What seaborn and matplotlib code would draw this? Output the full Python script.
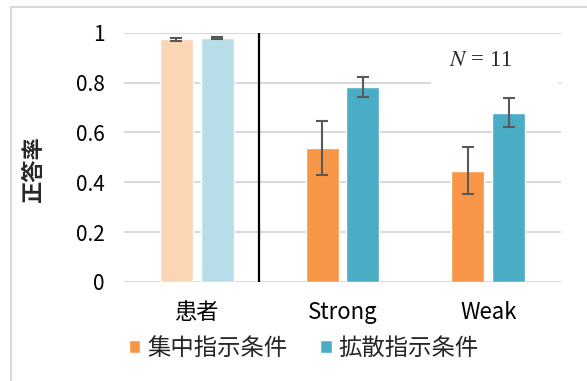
import matplotlib
matplotlib.use("Agg")
import numpy as np
import pandas as pd
import matplotlib.pyplot as plt
from matplotlib.patches import Rectangle
import seaborn as sns

groups = ["患者", "Strong", "Weak"]
conditions = ["集中指示条件", "拡散指示条件"]
focus_mean = [0.974, 0.538, 0.447]
focus_err = [0.006, 0.108, 0.094]
diffuse_mean = [0.979, 0.783, 0.679]
diffuse_err = [0.005, 0.040, 0.058]
ytick_labels = ["0", "0.2", "0.4", "0.6", "0.8", "1"]

df = pd.DataFrame({
    "群": groups * 2,
    "条件": [conditions[0]] * 3 + [conditions[1]] * 3,
    "正答率": focus_mean + diffuse_mean,
    "err": focus_err + diffuse_err,
})

sns.set_theme(style="white")
plt.rcParams["font.family"] = ["Noto Sans CJK JP", "DejaVu Sans"]
plt.rcParams["mathtext.fontset"] = "stix"

dark = {conditions[0]: "#F79646", conditions[1]: "#4BACC6"}
light = {conditions[0]: "#FCD5B5", conditions[1]: "#B7DEE8"}

fig, ax = plt.subplots(figsize=(5.87, 3.81), dpi=100)
fig.subplots_adjust(left=0.211, right=0.956, bottom=0.26, top=0.914)

sns.barplot(data=df, x="群", y="正答率", hue="条件", order=groups,
            hue_order=conditions, palette=dark, saturation=1, width=0.56,
            gap=0.19, errorbar=None, ax=ax, zorder=2)

# error bars + paler colours for the patient group
bars = sorted([p for p in ax.patches if p.get_height() > 0], key=lambda p: p.get_x())
df["g"] = df["群"].map(groups.index)
df["c"] = df["条件"].map(conditions.index)
rows = df.sort_values(["g", "c"])
for p, (_, r) in zip(bars, rows.iterrows()):
    xc = p.get_x() + p.get_width() / 2
    if r["群"] == groups[0]:
        p.set_facecolor(light[r["条件"]])
    ax.errorbar(xc, p.get_height(), yerr=r["err"], fmt="none", ecolor="#595959",
                elinewidth=1.5, capsize=4.3, capthick=1.5, zorder=3)

ax.set_xlim(-0.5, 2.5)
ax.set_ylim(0, 1)
ax.set_yticks(np.linspace(0, 1, 6))
ax.set_yticklabels(ytick_labels)
ax.yaxis.grid(True, color="#D9D9D9", lw=1.5)
ax.set_axisbelow(True)
sns.despine(ax=ax, left=True, bottom=True)
ax.tick_params(axis="both", length=0, colors="black")
ax.tick_params(axis="y", pad=14, labelsize=15)
ax.tick_params(axis="x", pad=14, labelsize=16)
ax.set_xlabel("")
ax.set_ylabel("")

ax.axvline(0.43, 0, 1, color="black", lw=1.6, zorder=3)

# N label on a white box
ax.add_patch(Rectangle((1.607, 0.785), 0.88, 0.185, facecolor="white",
                       edgecolor="none", zorder=1))
ax.text(1.95, 0.888, "$N$ = 11", fontfamily="Liberation Serif", fontsize=16.5,
        ha="center", va="center", zorder=4)

fig.text(34 / 587, 1 - 170 / 381, "正答率", rotation=90, ha="center",
         va="center", fontsize=16, fontweight="bold")

sns.move_legend(ax, "center", bbox_to_anchor=(304 / 587, 1 - 348 / 381),
                bbox_transform=fig.transFigure, ncol=2, title=None,
                frameon=False, fontsize=16.8, handlelength=0.48,
                handleheight=0.48, handletextpad=0.3, columnspacing=1.4)

fig.patches.append(Rectangle((11 / 587, -0.1), 1.2, 1.1 - 7 / 381,
                             transform=fig.transFigure, fill=False,
                             edgecolor="#D9D9D9", lw=1.5))

fig.savefig("out.png", dpi=100)
